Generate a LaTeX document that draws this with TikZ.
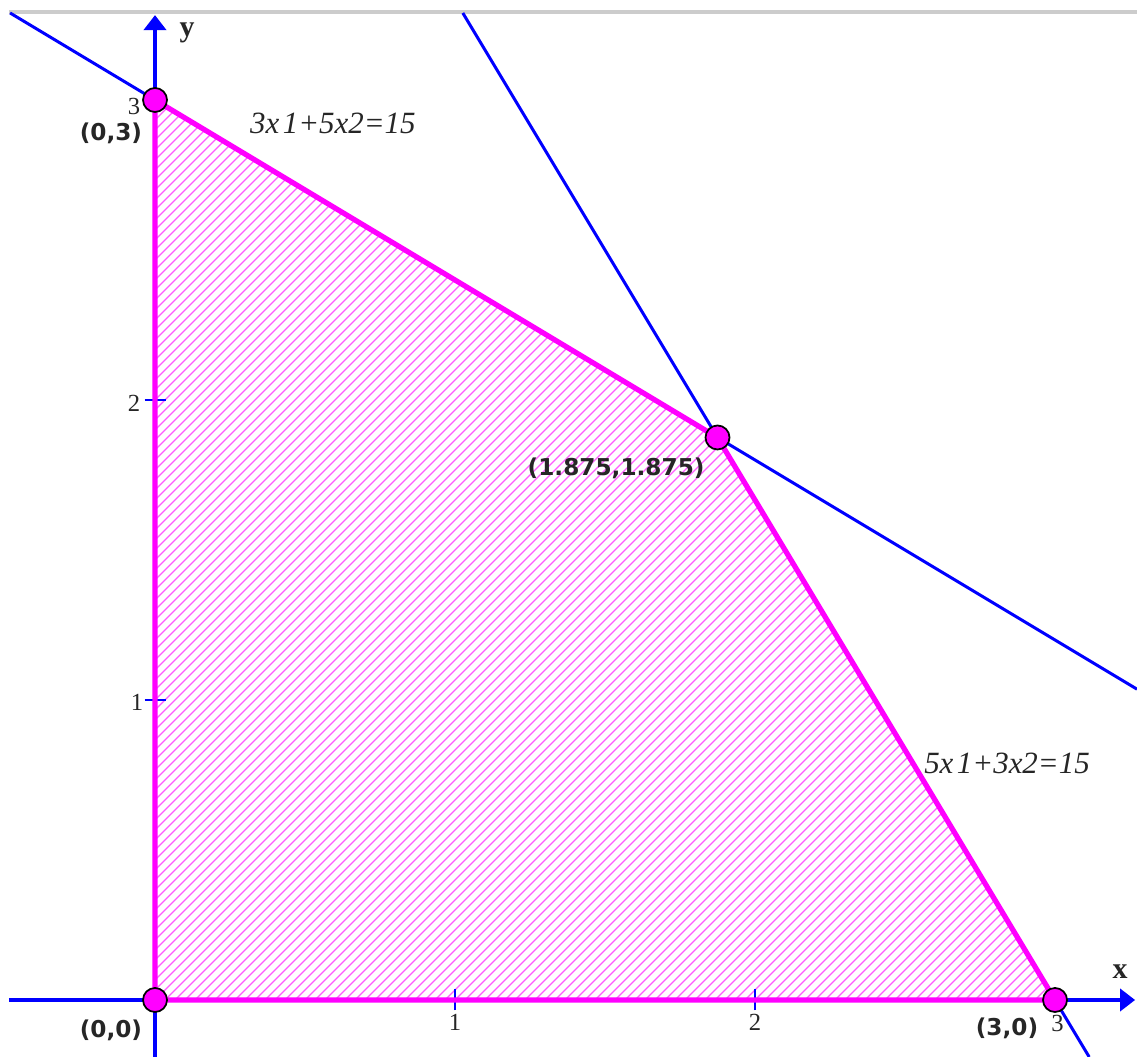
\documentclass[tikz,border=0pt]{standalone}
\usepackage{fontspec}
\setmainfont{Liberation Serif}
\newfontfamily\guifont{DejaVu Sans}
\usetikzlibrary{arrows.meta}
\definecolor{plotMagenta}{RGB}{255,0,255}
\definecolor{hatchMagenta}{RGB}{255,90,255}
\definecolor{plotBlue}{RGB}{0,0,255}

\begin{document}
\begin{tikzpicture}[x=3cm,y=3cm]
  % Styling
  \tikzset{
    axis/.style={
      -{Triangle[length=0.15cm,width=0.22cm]},
      line width=1.1pt,
      plotBlue
    },
    constraint/.style={
      line width=0.85pt,
      plotBlue
    },
    region/.style={
      line width=1.5pt,
      line join=round,
      plotMagenta
    },
    hatch/.style={
      line width=0.35pt,
      hatchMagenta
    },
    vertex/.style={
      circle,
      minimum size=0.24cm,
      inner sep=0pt,
      fill=plotMagenta,
      draw=black,
      line width=0.5pt
    },
    tick/.style={
      line width=0.8pt,
      plotBlue
    },
    tickLabel/.style={
      font=\fontsize{7}{8}\selectfont,
      black!85
    },
    pointLabel/.style={
      font=\guifont\bfseries\fontsize{6.6}{8}\selectfont,
      black!85
    },
    eqLabel/.style={
      font=\itshape\fontsize{8.8}{10}\selectfont,
      black!85
    },
    axisLabel/.style={
      font=\bfseries\fontsize{8.5}{10}\selectfont,
      black!85
    }
  }
  \useasboundingbox (-0.5167,-0.19) rectangle (3.2733,3.3333);

  % ===== Frame =====
  \coordinate (frameL) at (-0.487,3.293);
  \coordinate (frameR) at (3.2733,3.293);
  \draw[gray!40, line width=1.2pt] (frameL) -- (frameR);

  % Corners of the feasible region
  \coordinate (p0) at (0,0);
  \coordinate (p1) at (0,3);
  \coordinate (p2) at (1.875,1.875);
  \coordinate (p3) at (3,0);

  % Hatched region
  \begin{scope}
    \clip (p0) -- (p1) -- (p2) -- (p3) -- cycle;
    \foreach \i in {0,...,180} {
      \draw[hatch] ({-3+\i/30},0) -- ++(3.2,3.2);
    }
  \end{scope}

  % ===== Constraint lines =====
  \coordinate (c1a) at (-0.483,3.29);
  \coordinate (c1b) at (3.2733,1.036);
  \coordinate (c2a) at (1.026,3.29);
  \coordinate (c2b) at (3.114,-0.19);
  \draw[constraint] (c1a) -- (c1b);
  \draw[constraint] (c2a) -- (c2b);

  % ===== Axes =====
  \coordinate (xstart) at (-0.487,0);
  \coordinate (xend) at (3.267,0);
  \coordinate (ystart) at (0,-0.19);
  \coordinate (yend) at (0,3.283);
  \draw[axis] (xstart) -- (xend);
  \draw[axis] (ystart) -- (yend);

  % Ticks
  \foreach \t in {1,2,3} {
    \draw[tick] (\t,-0.035) -- (\t,0.035);
    \draw[tick] (-0.035,\t) -- (0.035,\t);
  }

  % Tick labels
  \node[tickLabel] (tx1) at (1,-0.075) {1};
  \node[tickLabel] (tx2) at (2,-0.075) {2};
  \node[tickLabel] (tx3) at (3.008,-0.079) {3};
  \node[tickLabel] (ty1) at (-0.06,0.993) {1};
  \node[tickLabel] (ty2) at (-0.07,1.99) {2};
  \node[tickLabel] (ty3) at (-0.07,2.98) {3};

  % Axis labels
  \node[axisLabel] (xlab) at (3.217,0.093) {x};
  \node[axisLabel] (ylab) at (0.107,3.223) {y};

  % ===== Boundary of the region =====
  \draw[region] (p0) -- (p1) -- (p2) -- (p3) -- cycle;

  % Vertices
  \node[vertex] (v0) at (p0) {};
  \node[vertex] (v1) at (p1) {};
  \node[vertex] (v2) at (p2) {};
  \node[vertex] (v3) at (p3) {};

  % Vertex labels
  \node[pointLabel] (l0) at (-0.147,-0.1) {(0,0)};
  \node[pointLabel] (l1) at (-0.147,2.89) {(0,3)};
  \node[pointLabel] (l2) at (1.537,1.773) {(1.875,1.875)};
  \node[pointLabel] (l3) at (2.84,-0.093) {(3,0)};

  % Equation labels
  \node[eqLabel] (eq1) at (0.593,2.923) {3x\kern1pt1+5x2=15};
  \node[eqLabel] (eq2) at (2.84,0.79) {5x\kern1pt1+3x2=15};

\end{tikzpicture}
\end{document}
